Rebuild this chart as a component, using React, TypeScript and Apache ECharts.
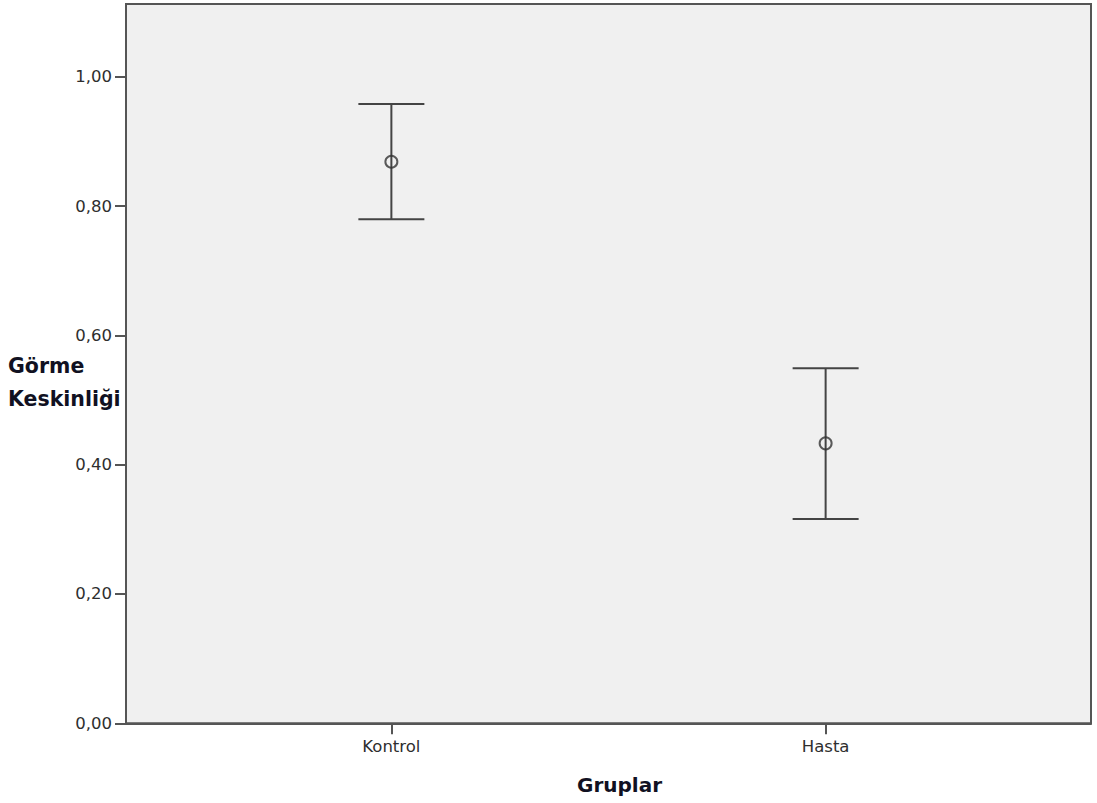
import React, { useEffect, useRef } from "react";
import * as echarts from "echarts";

const categories = ["Kontrol", "Hasta"];
const means = [0.8685, 0.433];
const lowerCI = [0.7795, 0.316];
const upperCI = [0.958, 0.549];
const yTicks = [0, 0.2, 0.4, 0.6, 0.8, 1.0];

export default function App() {
  const ref = useRef<HTMLDivElement>(null);
  useEffect(() => {
    document.body.style.margin = "0";
    const chart = echarts.init(ref.current!, null, { renderer: "svg" });
    const errData = categories.map((_, i) => [i, lowerCI[i], upperCI[i]]);
    const meanData = categories.map((_, i) => [i, means[i]]);
    const labelFont = "'DejaVu Sans', Verdana, sans-serif";
    chart.setOption({
      animation: false,
      backgroundColor: "#ffffff",
      grid: {
        left: 126,
        top: 4,
        width: 965,
        height: 719.3,
        show: true,
        backgroundColor: "#f0f0f0",
        borderColor: "#555555",
        borderWidth: 2,
      },
      xAxis: {
        type: "value",
        min: -0.6111,
        max: 1.6111,
        splitLine: { show: false },
        axisLine: { show: true, onZero: false, lineStyle: { color: "#555555", width: 2 } },
        axisTick: {
          show: true,
          length: 11,
          customValues: [0, 1],
          lineStyle: { color: "#555555", width: 2 },
        },
        axisLabel: {
          customValues: [0, 1],
          margin: 15,
          fontFamily: labelFont,
          fontSize: 16.5,
          color: "#2e2e2e",
          formatter: (v: number) => categories[Math.round(v)] ?? "",
        },
      },
      yAxis: {
        type: "value",
        min: 0,
        max: 1.1125,
        splitLine: { show: false },
        axisLine: { show: true, onZero: false, lineStyle: { color: "#555555", width: 2 } },
        axisTick: {
          show: true,
          length: 11,
          customValues: yTicks,
          lineStyle: { color: "#555555", width: 2 },
        },
        axisLabel: {
          customValues: yTicks,
          margin: 14,
          fontFamily: labelFont,
          fontSize: 16.5,
          color: "#2e2e2e",
          formatter: (v: number) => v.toFixed(2).replace(".", ","),
        },
      },
      graphic: [
        {
          type: "text",
          x: 8,
          y: 366,
          style: {
            text: "Görme",
            font: "bold 20.5px 'DejaVu Sans', sans-serif",
            verticalAlign: "middle",
            fill: "#111122",
          },
        },
        {
          type: "text",
          x: 8,
          y: 398.5,
          style: {
            text: "Keskinliği",
            font: "bold 20.5px 'DejaVu Sans', sans-serif",
            verticalAlign: "middle",
            fill: "#111122",
          },
        },
        {
          type: "text",
          x: 619.5,
          y: 785,
          style: {
            text: "Gruplar",
            font: "bold 20px 'DejaVu Sans', sans-serif",
            align: "center",
            verticalAlign: "middle",
            fill: "#111122",
          },
        },
      ],
      series: [
        {
          type: "custom",
          data: errData,
          renderItem: (params: any, api: any) => {
            const x = api.value(0);
            const lo = api.coord([x, api.value(1)]);
            const hi = api.coord([x, api.value(2)]);
            const hw = 33;
            const style = { stroke: "#444444", lineWidth: 2 };
            return {
              type: "group",
              children: [
                { type: "line", shape: { x1: lo[0], y1: lo[1], x2: hi[0], y2: hi[1] }, style },
                { type: "line", shape: { x1: hi[0] - hw, y1: hi[1], x2: hi[0] + hw, y2: hi[1] }, style },
                { type: "line", shape: { x1: lo[0] - hw, y1: lo[1], x2: lo[0] + hw, y2: lo[1] }, style },
              ],
            };
          },
          z: 2,
        },
        {
          type: "scatter",
          data: meanData,
          symbol: "circle",
          symbolSize: 12,
          itemStyle: { color: "rgba(0,0,0,0)", borderColor: "#333333", borderWidth: 2 },
          z: 3,
        },
      ],
    });
    return () => chart.dispose();
  }, []);
  return <div ref={ref} style={{ width: 1097, height: 803 }} />;
}
